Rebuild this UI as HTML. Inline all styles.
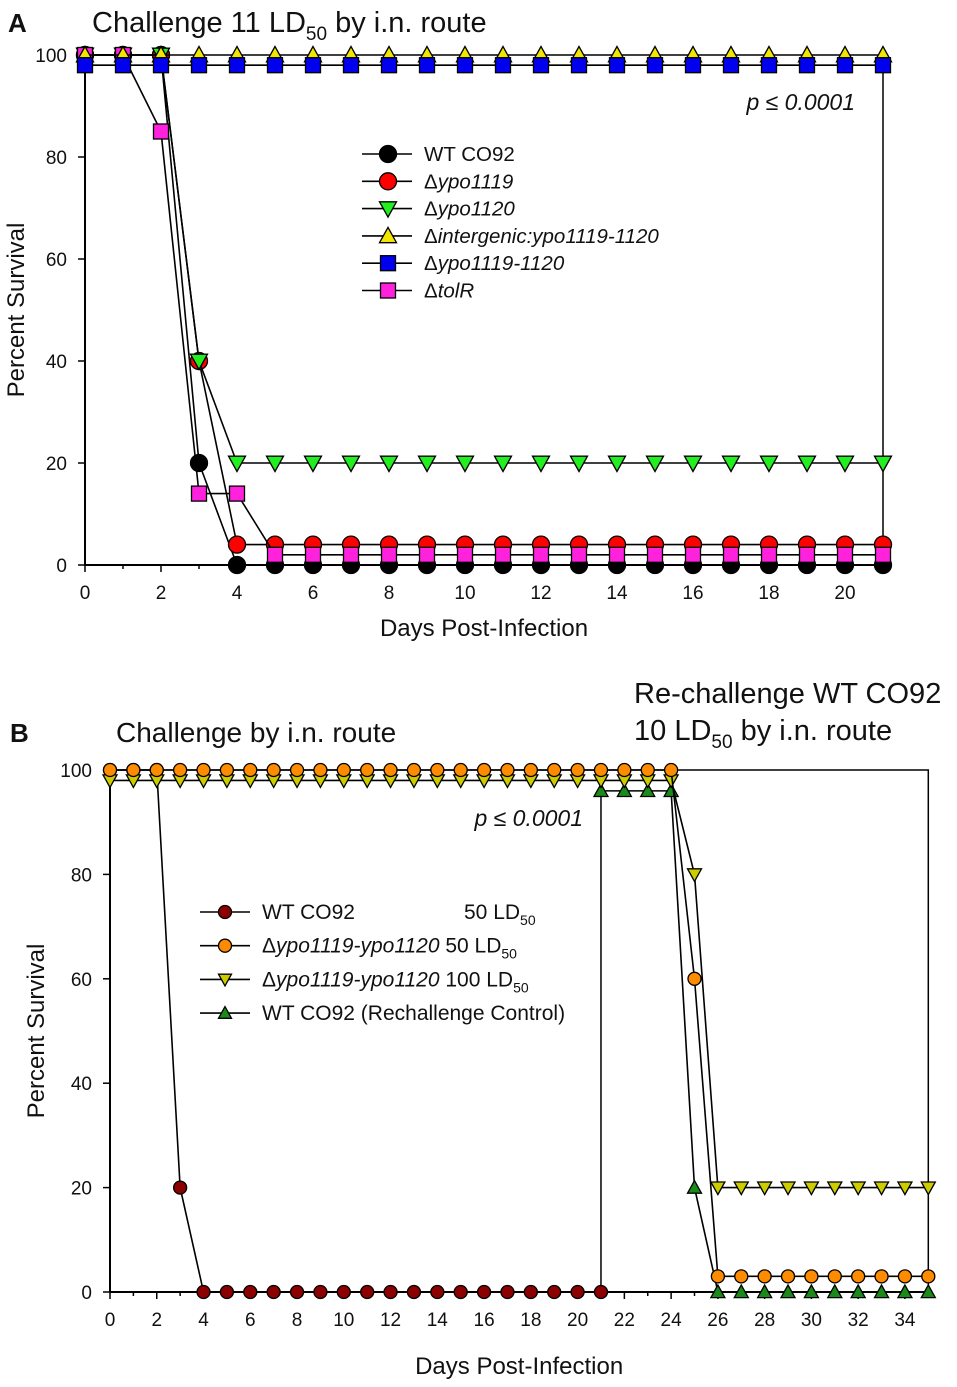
<!DOCTYPE html>
<html><head><meta charset="utf-8"><style>
html,body{margin:0;padding:0;background:#fff;}
svg{display:block;font-family:"Liberation Sans",Arial,sans-serif;}
</style></head><body>
<svg id="fig" width="957" height="1387" viewBox="0 0 957 1387" xmlns="http://www.w3.org/2000/svg">
<g id="pa"></g>
<g id="pb"></g>
</svg>
<script>
// ---- Panel A data ----
const daysA = [0,1,2,3,4,5,6,7,8,9,10,11,12,13,14,15,16,17,18,19,20,21];
const wtA      = [100,100,100,20,0,0,0,0,0,0,0,0,0,0,0,0,0,0,0,0,0,0];
const y1119A   = [100,100,100,40,4,4,4,4,4,4,4,4,4,4,4,4,4,4,4,4,4,4];
const y1120A   = [100,100,100,40,20,20,20,20,20,20,20,20,20,20,20,20,20,20,20,20,20,20];
const interA   = [100,100,100,100,100,100,100,100,100,100,100,100,100,100,100,100,100,100,100,100,100,100];
const dblA     = [98,98,98,98,98,98,98,98,98,98,98,98,98,98,98,98,98,98,98,98,98,98];
const tolRA    = [100,100,85,14,14,2,2,2,2,2,2,2,2,2,2,2,2,2,2,2,2,2];
const xTicksA = [0,2,4,6,8,10,12,14,16,18,20];
const yTicks = [0,20,40,60,80,100];
// ---- Panel B data ----
const daysB = [0,1,2,3,4,5,6,7,8,9,10,11,12,13,14,15,16,17,18,19,20,21,22,23,24,25,26,27,28,29,30,31,32,33,34,35];
const wtBdays = [0,1,2,3,4,5,6,7,8,9,10,11,12,13,14,15,16,17,18,19,20,21];
const wtB   = [100,100,100,20,0,0,0,0,0,0,0,0,0,0,0,0,0,0,0,0,0,0];
const d50B  = [100,100,100,100,100,100,100,100,100,100,100,100,100,100,100,100,100,100,100,100,100,100,100,100,100,60,3,3,3,3,3,3,3,3,3,3];
const d100B = [98,98,98,98,98,98,98,98,98,98,98,98,98,98,98,98,98,98,98,98,98,98,98,98,98,80,20,20,20,20,20,20,20,20,20,20];
const ctrlDays = [21,22,23,24,25,26,27,28,29,30,31,32,33,34,35];
const ctrlB = [96,96,96,96,20,0,0,0,0,0,0,0,0,0,0];
const xTicksB = [0,2,4,6,8,10,12,14,16,18,20,22,24,26,28,30,32,34];

const NS="http://www.w3.org/2000/svg";
function mk(parent,tag,attrs){const e=document.createElementNS(NS,tag);for(const k in attrs)e.setAttribute(k,attrs[k]);parent.appendChild(e);return e;}
function marker(g,shape,cx,cy,fill,r){
  let e;
  if(shape==='circle') e=mk(g,'circle',{cx:cx,cy:cy,r:r,fill:fill,stroke:'#000','stroke-width':1.3});
  else if(shape==='square') e=mk(g,'rect',{x:cx-r,y:cy-r,width:2*r,height:2*r,fill:fill,stroke:'#000','stroke-width':1.3});
  else if(shape==='up') e=mk(g,'polygon',{points:`${cx},${cy-r} ${cx-r},${cy+r*0.8} ${cx+r},${cy+r*0.8}`,fill:fill,stroke:'#000','stroke-width':1.3});
  else e=mk(g,'polygon',{points:`${cx},${cy+r} ${cx-r},${cy-r*0.8} ${cx+r},${cy-r*0.8}`,fill:fill,stroke:'#000','stroke-width':1.3});
  return e;
}
function series(g,xs,ys,sx,sy,shape,fill,r,name){
  const sg=mk(g,'g',{});
  
  
  mk(sg,'polyline',{points:xs.map((x,i)=>sx(x)+','+sy(ys[i])).join(' '),fill:'none',stroke:'#000','stroke-width':1.6});
  xs.forEach((x,i)=>{const m=marker(sg,shape,sx(x),sy(ys[i]),fill,r);
    
    });
}
function txt(g,x,y,s,size,anchor,name,extra){
  const t=mk(g,'text',Object.assign({x:x,y:y,'font-size':size,'text-anchor':anchor||'start',fill:'#111'},extra||{}));
  t.innerHTML=s;
  
  
  return t;
}
function axes(g,sx,sy,x0,x1,xt,ylabX,xlabY){
  const ax=mk(g,'g',{});
  
  
  mk(ax,'line',{x1:sx(x0),y1:sy(0),x2:sx(x1),y2:sy(0),stroke:'#000','stroke-width':2});
  mk(ax,'line',{x1:sx(x0),y1:sy(0),x2:sx(x0),y2:sy(100),stroke:'#000','stroke-width':2});
  for(let d=x0;d<=x1;d++){mk(ax,'line',{x1:sx(d),y1:sy(0),x2:sx(d),y2:sy(0)+(xt.includes(d)?7:4),stroke:'#000','stroke-width':1.5});}
  xt.forEach(d=>txt(ax,sx(d),sy(0)+34,d,19,'middle','x-tick-label'));
  yTicks.forEach(v=>{mk(ax,'line',{x1:sx(x0)-7,y1:sy(v),x2:sx(x0),y2:sy(v),stroke:'#000','stroke-width':1.5});
    txt(ax,sx(x0)-18,sy(v)+7,v,19,'end','y-tick-label');});
  const my=(sy(0)+sy(100))/2;
  txt(ax,ylabX,my,'Percent Survival',24,'middle','y-axis-title',{transform:`rotate(-90 ${ylabX} ${my})`});
  txt(ax,(sx(x0)+sx(x1))/2,xlabY,'Days Post-Infection',24,'middle','x-axis-title');
}
// Panel A
(function(){
  const g=document.getElementById('pa');
  const sx=d=>85+d*38, sy=v=>565-v*5.1;
  mk(g,'rect',{x:85,y:sy(98),width:798,height:sy(0)-sy(98),fill:'none',stroke:'#000','stroke-width':1.5});
  axes(g,sx,sy,0,21,xTicksA,24,636);
  txt(g,8,32,'A',26,'start','panel-label-a',{'font-weight':'bold'});
  txt(g,92,32,'Challenge 11 LD<tspan font-size="19" dy="8">50</tspan><tspan dy="-8"> by i.n. route</tspan>',29,'start','chart-title-a');
  txt(g,855,110,'p ≤ 0.0001',23,'end','p-value-a',{'font-style':'italic'});
  series(g,daysA,wtA,sx,sy,'circle','#000',8.5,'series-wt-co92');
  series(g,daysA,y1119A,sx,sy,'circle','#ff0000',8.5,'series-ypo1119');
  series(g,daysA,y1120A,sx,sy,'down','#22ee22',8.5,'series-ypo1120');
  series(g,daysA,tolRA,sx,sy,'square','#ff22dd',7.5,'series-tolr');
  series(g,daysA,interA,sx,sy,'up','#f2e600',8.5,'series-intergenic');
  series(g,daysA,dblA,sx,sy,'square','#0000ee',7.5,'series-ypo1119-1120');
  const lg=mk(g,'g',{});
  
  
  const ent=[['circle','#000','WT CO92'],['circle','#ff0000','Δ<tspan font-style="italic">ypo1119</tspan>'],['down','#22ee22','Δ<tspan font-style="italic">ypo1120</tspan>'],['up','#f2e600','Δ<tspan font-style="italic">intergenic:ypo1119-1120</tspan>'],['square','#0000ee','Δ<tspan font-style="italic">ypo1119-1120</tspan>'],['square','#ff22dd','Δ<tspan font-style="italic">tolR</tspan>']];
  ent.forEach((e,i)=>{const y=154+i*27.3;
    mk(lg,'line',{x1:362,y1:y,x2:412,y2:y,stroke:'#000','stroke-width':1.6});
    marker(lg,e[0],388,y,e[1],e[0]==='square'?7.5:8.5);
    txt(lg,424,y+7,e[2],20.5,'start','legend-entry');});
})();
// Panel B
(function(){
  const g=document.getElementById('pb');
  const sx=d=>110+d*23.38, sy=v=>1292-v*5.22;
  mk(g,'polyline',{points:`${sx(21)},${sy(0)} ${sx(21)},${sy(100)} ${sx(35)},${sy(100)} ${sx(35)},${sy(0)}`,fill:'none',stroke:'#000','stroke-width':1.5});
  mk(g,'line',{x1:sx(0),y1:sy(100),x2:sx(21),y2:sy(100),stroke:'#000','stroke-width':1.5});
  axes(g,sx,sy,0,35,xTicksB,44,1374);
  txt(g,10,742,'B',26,'start','panel-label-b',{'font-weight':'bold'});
  txt(g,116,742,'Challenge by i.n. route',28,'start','chart-title-b');
  txt(g,634,703,'Re-challenge WT CO92',29,'start','rechallenge-title');
  txt(g,634,740,'10 LD<tspan font-size="19" dy="8">50</tspan><tspan dy="-8"> by i.n. route</tspan>',29,'start','rechallenge-subtitle');
  txt(g,583,826,'p ≤ 0.0001',23,'end','p-value-b',{'font-style':'italic'});
  series(g,wtBdays,wtB,sx,sy,'circle','#8b0000',6.5,'series-wt-co92-50ld50');
  series(g,ctrlDays,ctrlB,sx,sy,'up','#1a8a1a',7,'series-rechallenge-control');
  series(g,daysB,d100B,sx,sy,'down','#cccc00',7,'series-delta-100ld50');
  series(g,daysB,d50B,sx,sy,'circle','#ff8c00',6.5,'series-delta-50ld50');
  const lg=mk(g,'g',{});
  
  
  const sub='<tspan font-size="14" dy="6">50</tspan>';
  const ent=[['circle','#8b0000','WT CO92<tspan x="464">50 LD</tspan>'+sub],['circle','#ff8c00','Δ<tspan font-style="italic">ypo1119-ypo1120</tspan> 50 LD'+sub],['down','#cccc00','Δ<tspan font-style="italic">ypo1119-ypo1120</tspan> 100 LD'+sub],['up','#1a8a1a','WT CO92 (Rechallenge Control)']];
  ent.forEach((e,i)=>{const y=912+i*33.7;
    mk(lg,'line',{x1:200,y1:y,x2:250,y2:y,stroke:'#000','stroke-width':1.6});
    marker(lg,e[0],225,y,e[1],6.5);
    txt(lg,262,y+7,e[2],21,'start','legend-entry');});
})();
</script>
</body></html>
